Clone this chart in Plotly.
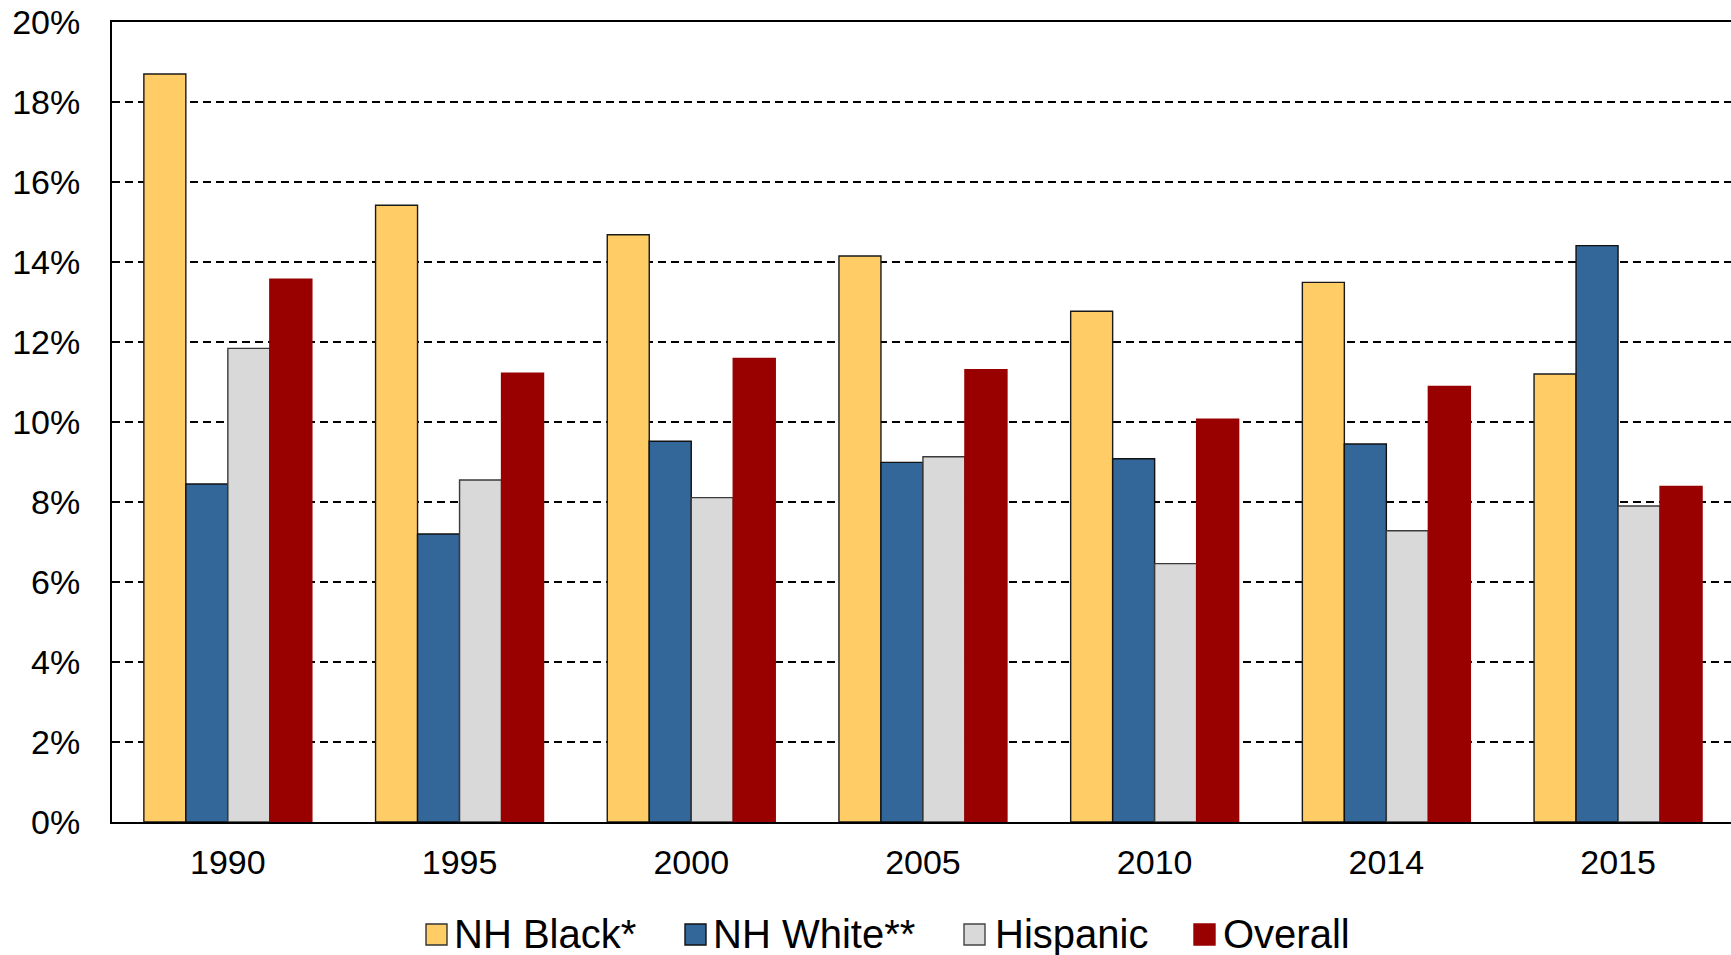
import plotly.graph_objects as go

# ---- data ----
years = ["1990", "1995", "2000", "2005", "2010", "2014", "2015"]
series_names = ["NH Black*", "NH White**", "Hispanic", "Overall"]
nh_black = [18.70, 15.42, 14.68, 14.15, 12.77, 13.49, 11.20]
nh_white = [8.45, 7.20, 9.52, 8.99, 9.08, 9.45, 14.41]
hispanic = [11.84, 8.55, 8.11, 9.13, 6.46, 7.28, 7.90]
overall = [13.57, 11.22, 11.59, 11.31, 10.07, 10.89, 8.39]
y_ticks = [0, 2, 4, 6, 8, 10, 12, 14, 16, 18, 20]

# ---- styles ----
W, H = 1731, 955
ML, MR, MT, MB = 112, 0, 22, 133
PW, PH = W - ML - MR, H - MT - MB
fills = ["#FFCC66", "#336699", "#D9D9D9", "#990000"]
outlines = ["#1a1a1a", "#111111", "#3a3a3a", "#990000"]
FONT = "Liberation Sans, Arial, sans-serif"

fig = go.Figure()
for name, vals, fc, lc in zip(series_names, [nh_black, nh_white, hispanic, overall], fills, outlines):
    fig.add_trace(go.Bar(
        x=list(range(len(years))), y=vals, name=name,
        marker=dict(color=fc, line=dict(color=lc, width=1.4)),
        showlegend=False,
    ))

cat_px = 231.7
fig.update_layout(
    width=W, height=H,
    margin=dict(l=ML, r=MR, t=MT, b=MB, pad=0),
    paper_bgcolor="white", plot_bgcolor="white",
    barmode="group", bargap=0.275, bargroupgap=0,
    font=dict(family=FONT, color="black"),
    xaxis=dict(
        range=[-0.5, -0.5 + PW / cat_px],
        tickmode="array", tickvals=list(range(len(years))), ticktext=years,
        tickfont=dict(size=34, family=FONT, color="black"),
        showgrid=False, zeroline=False,
        showline=True, linecolor="black", linewidth=2, mirror=True,
        ticks="", ticklabelstandoff=9,
    ),
    yaxis=dict(
        range=[0, 20],
        tickmode="array", tickvals=y_ticks, ticktext=[f"{v}%" for v in y_ticks],
        tickfont=dict(size=34, family=FONT, color="black"),
        showgrid=True, gridcolor="black", gridwidth=1.8, griddash="8px,5px",
        zeroline=False,
        showline=True, linecolor="black", linewidth=2,
        ticks="", ticklabelstandoff=23,
    ),
)

# ---- custom legend (squares + labels) ----
sq_left = [426, 685, 964, 1194]
txt_left = [452, 711, 993, 1221]
sq_size = 21
sq_top = 924
leg_outline = ["#333333", "#111111", "#444444", "#990000"]
def px_x(p):
    return (p - ML) / PW
def px_y(p):
    return (H - MB - p) / PH
shapes = []
annotations = []
for name, fc, lc, sl, tl in zip(series_names, fills, leg_outline, sq_left, txt_left):
    shapes.append(dict(type="rect", xref="paper", yref="paper",
                       x0=px_x(sl), x1=px_x(sl + sq_size),
                       y0=px_y(sq_top + sq_size), y1=px_y(sq_top),
                       fillcolor=fc, line=dict(color=lc, width=1.4)))
    annotations.append(dict(xref="paper", yref="paper", x=px_x(tl), y=px_y(934),
                            xanchor="left", yanchor="middle", text=name, showarrow=False,
                            font=dict(size=40, family=FONT, color="black")))
fig.update_layout(shapes=shapes, annotations=annotations)

fig.write_html("out.html", config={"displayModeBar": False},
               post_script="document.body.style.margin='0';document.body.style.overflow='hidden';")
